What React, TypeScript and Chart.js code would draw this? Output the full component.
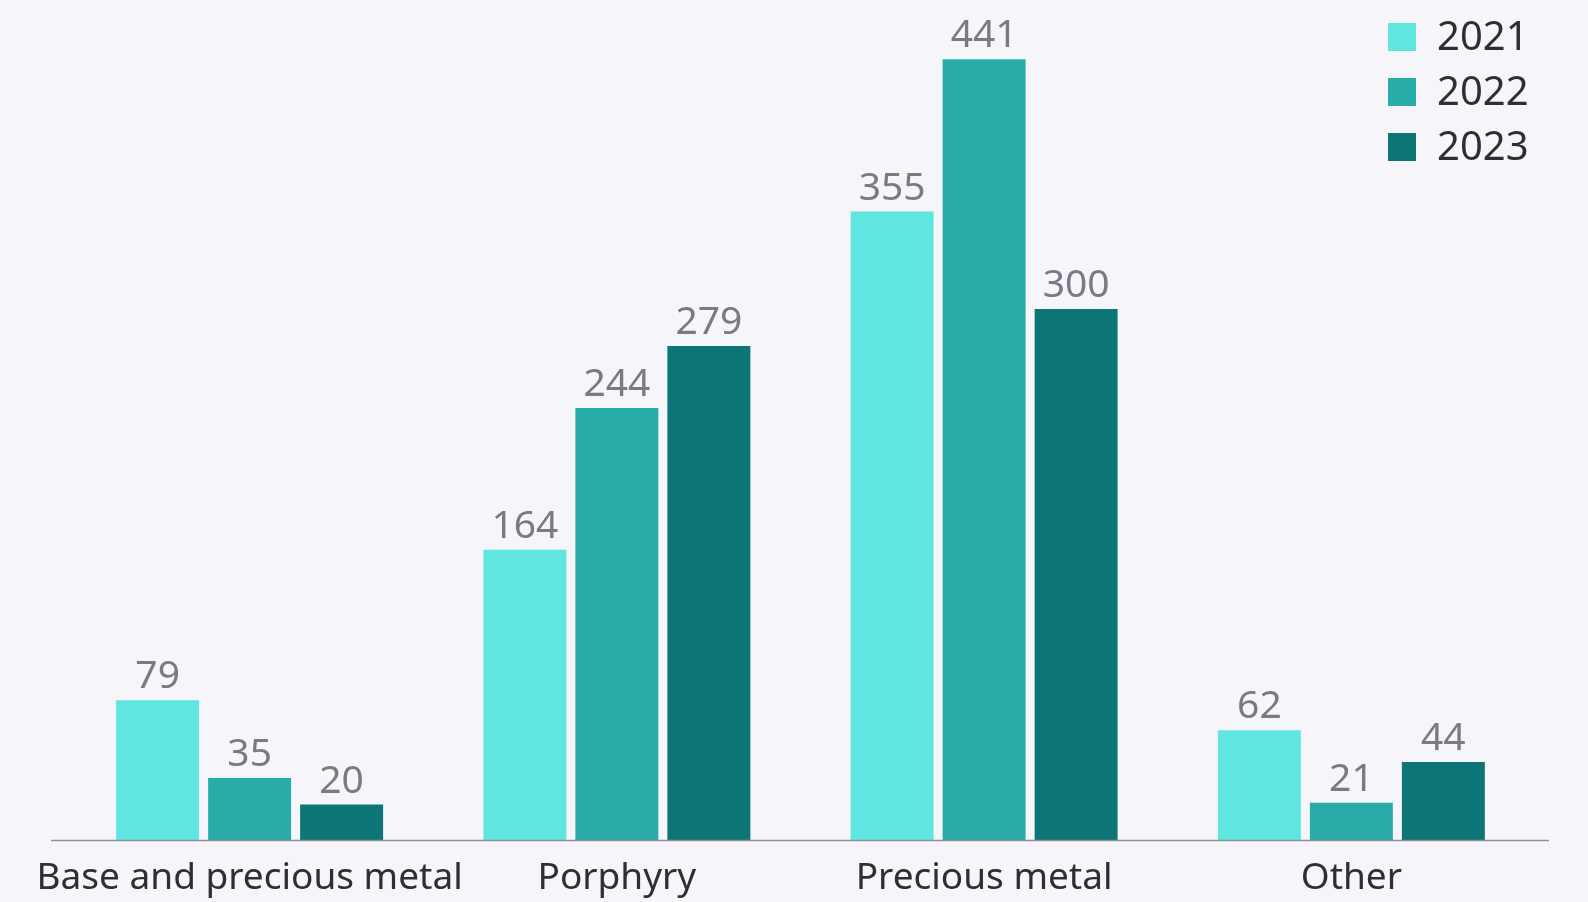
import React, { useEffect, useRef } from "react";
import { Chart, registerables } from "chart.js";

Chart.register(...registerables);

const categories = ["Base and precious metal", "Porphyry", "Precious metal", "Other"];
const seriesLabels = ["2021", "2022", "2023"];
const values2021 = [79, 164, 355, 62];
const values2022 = [35, 244, 441, 21];
const values2023 = [20, 279, 300, 44];
const seriesColors = ["#60E6E1", "#27ACAA", "#0D7575"];

const FONT = "'Noto Sans', sans-serif";

const bgPlugin = {
  id: "bg",
  beforeDraw(chart: any) {
    const { ctx, width, height } = chart;
    ctx.save();
    ctx.fillStyle = "#F5F5FA";
    ctx.fillRect(0, 0, width, height);
    ctx.restore();
  },
};

const baselinePlugin = {
  id: "baseline",
  afterDatasetsDraw(chart: any) {
    const { ctx, chartArea } = chart;
    const y = chart.scales.y.getPixelForValue(0);
    ctx.save();
    ctx.strokeStyle = "#8F8F99";
    ctx.lineWidth = 1.5;
    ctx.beginPath();
    ctx.moveTo(chartArea.left - 15, y + 0.5);
    ctx.lineTo(chartArea.right + 14, y + 0.5);
    ctx.stroke();
    ctx.restore();
  },
};

const valueLabelPlugin = {
  id: "valueLabels",
  afterDatasetsDraw(chart: any) {
    const { ctx } = chart;
    ctx.save();
    ctx.font = `400 39px ${FONT}`;
    ctx.fillStyle = "#7A7A85";
    ctx.textAlign = "center";
    ctx.textBaseline = "alphabetic";
    chart.data.datasets.forEach((ds: any, i: number) => {
      const meta = chart.getDatasetMeta(i);
      meta.data.forEach((bar: any, j: number) => {
        ctx.fillText(String(ds.data[j]), bar.x, bar.y - 12);
      });
    });
    ctx.restore();
  },
};

const legendPlugin = {
  id: "customLegend",
  afterDraw(chart: any) {
    const { ctx } = chart;
    ctx.save();
    ctx.font = `400 40px ${FONT}`;
    ctx.textAlign = "left";
    ctx.textBaseline = "alphabetic";
    chart.data.datasets.forEach((ds: any, i: number) => {
      const top = 23 + i * 55;
      ctx.fillStyle = ds.backgroundColor;
      ctx.fillRect(1388, top, 28, 28);
      ctx.fillStyle = "#2E2E38";
      ctx.fillText(ds.label, 1437, top + 27);
    });
    ctx.restore();
  },
};

export default function App() {
  const ref = useRef<HTMLCanvasElement>(null);
  useEffect(() => {
    if (!ref.current) return;
    const chart = new Chart(ref.current, {
      type: "bar",
      data: {
        labels: categories,
        datasets: [values2021, values2022, values2023].map((d, i) => ({
          label: seriesLabels[i],
          data: d,
          backgroundColor: seriesColors[i],
          borderWidth: 0,
          categoryPercentage: 0.7515,
          barPercentage: 0.902,
        })),
      },
      options: {
        responsive: false,
        animation: false,
        devicePixelRatio: 1,
        layout: { padding: { left: 66, right: 53, top: 8, bottom: 0 } },
        plugins: { legend: { display: false }, tooltip: { enabled: false } },
        scales: {
          x: {
            grid: { display: false, drawTicks: false },
            border: { display: false },
            ticks: {
              color: "#2E2E38",
              font: { family: FONT, size: 37, weight: "400" as any, lineHeight: 1.2 },
              padding: 16,
              maxRotation: 0,
              autoSkip: false,
            },
            afterFit: (scale: any) => {
              scale.height = 62;
            },
          },
          y: {
            display: false,
            min: 0,
            max: 470,
          },
        },
      },
      plugins: [bgPlugin, baselinePlugin, valueLabelPlugin, legendPlugin],
    });
    return () => chart.destroy();
  }, []);
  return (
    <div style={{ position: "absolute", left: 0, top: 0, width: 1588, height: 902, background: "#F5F5FA" }}>
      <canvas ref={ref} width={1588} height={902} style={{ width: 1588, height: 902 }} />
    </div>
  );
}
